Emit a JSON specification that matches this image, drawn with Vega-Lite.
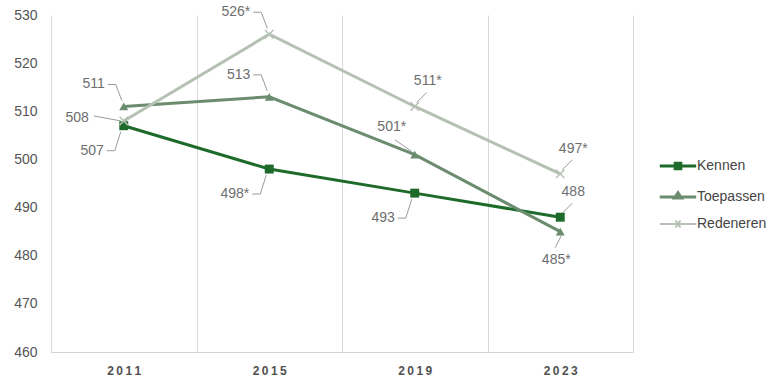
{
  "$schema": "https://vega.github.io/schema/vega-lite/v6.json",
  "autosize": "none",
  "width": 582,
  "height": 337,
  "padding": {"left": 51, "top": 15, "right": 140, "bottom": 28},
  "background": "white",
  "config": {"view": {"stroke": null}, "font": "Liberation Sans"},
  "data": {
    "values": [
      {"year": 2011, "series": "Kennen", "score": 507, "label": "507"},
      {"year": 2015, "series": "Kennen", "score": 498, "label": "498*"},
      {"year": 2019, "series": "Kennen", "score": 493, "label": "493"},
      {"year": 2023, "series": "Kennen", "score": 488, "label": "488"},
      {"year": 2011, "series": "Toepassen", "score": 511, "label": "511"},
      {"year": 2015, "series": "Toepassen", "score": 513, "label": "513"},
      {"year": 2019, "series": "Toepassen", "score": 501, "label": "501*"},
      {"year": 2023, "series": "Toepassen", "score": 485, "label": "485*"},
      {"year": 2011, "series": "Redeneren", "score": 508, "label": "508"},
      {"year": 2015, "series": "Redeneren", "score": 526, "label": "526*"},
      {"year": 2019, "series": "Redeneren", "score": 511, "label": "511*"},
      {"year": 2023, "series": "Redeneren", "score": 497, "label": "497*"}
    ]
  },
  "encoding": {
    "x": {
      "field": "year", "type": "quantitative",
      "scale": {"domain": [2009, 2025], "nice": false, "zero": false},
      "axis": {
        "title": null,
        "values": [2009, 2011, 2013, 2015, 2017, 2019, 2021, 2023, 2025],
        "format": "d",
        "labelExpr": "indexof([2011, 2015, 2019, 2023], datum.value) >= 0 ? join(split(datum.label, ''), '\u2009') : ''",
        "labelFontSize": 12,
        "labelFontWeight": "bold",
        "labelColor": "#505050",
        "labelPadding": 13,
        "labelFlush": false,
        "labelOverlap": false,
        "ticks": false,
        "domainColor": "#d4d4d4",
        "domainWidth": 1,
        "grid": true,
        "gridColor": "#d9d9d9",
        "gridWidth": 1,
        "gridOpacity": {"condition": {"test": "(datum.value - 2009) % 4 == 0", "value": 1}, "value": 0}
      }
    },
    "y": {
      "field": "score", "type": "quantitative",
      "scale": {"domain": [460, 530], "nice": false, "zero": false},
      "axis": {
        "title": null,
        "values": [460, 470, 480, 490, 500, 510, 520, 530],
        "labelFontSize": 14,
        "labelColor": "#555555",
        "labelPadding": 14,
        "ticks": false,
        "domain": false,
        "grid": false
      }
    },
    "color": {
      "field": "series", "type": "nominal",
      "scale": {"domain": ["Kennen", "Toepassen", "Redeneren"], "range": ["#1e6a2a", "#6b8c6e", "#b5c1b3"]},
      "legend": {
        "title": null,
        "orient": "none",
        "legendX": 620,
        "legendY": 144,
        "padding": 0,
        "symbolSize": 784,
        "symbolStrokeWidth": 3,
        "labelFontSize": 14,
        "labelColor": "#444444",
        "labelOffset": 12,
        "rowPadding": 11,
        "encode": {
          "symbols": {
            "update": {
              "shape": {"signal": "datum.value === 'Kennen' ? 'M-1.3,0H1.3M-0.2,-0.2H0.2V0.2H-0.2Z' : datum.value === 'Toepassen' ? 'M-1.3,0H1.3M0,-0.3L0.25,0.08H-0.25Z' : 'M-1.3,0H1.3M-0.18,-0.25L0.18,0.25M-0.18,0.25L0.18,-0.25'"},
              "fill": {"signal": "scale('color', datum.value)"},
              "stroke": {"signal": "scale('color', datum.value)"},
              "strokeWidth": {"signal": "datum.value === 'Redeneren' ? 2 : 3"}
            }
          }
        }
      }
    }
  },
  "layer": [
    {"mark": {"type": "line", "strokeWidth": 3}},
    {
      "transform": [{"filter": "datum.series !== 'Redeneren'"}],
      "mark": {"type": "point", "filled": true, "opacity": 1, "size": 80},
      "encoding": {
        "shape": {"field": "series", "type": "nominal", "scale": {"domain": ["Kennen", "Toepassen"], "range": ["square", "triangle-up"]}, "legend": null}
      }
    },
    {
      "transform": [{"filter": "datum.series === 'Redeneren'"}],
      "mark": {"type": "point", "filled": false, "opacity": 1, "size": 70, "strokeWidth": 1.5, "shape": "M-1,-1L1,1M-1,1L1,-1"}
    },
    {
      "transform": [{"filter": "datum.series === 'Kennen' && datum.year < 2023"}],
      "mark": {"type": "text", "align": "right", "baseline": "middle", "dx": -20, "dy": 25, "fontSize": 14},
      "encoding": {"text": {"field": "label"}, "color": {"value": "#6e6e6e"}}
    },
    {
      "transform": [{"filter": "datum.series === 'Kennen' && datum.year < 2023"}],
      "mark": {"type": "rule", "strokeWidth": 1, "xOffset": -17, "x2Offset": -9, "yOffset": 25, "y2Offset": 25},
      "encoding": {"x2": {"field": "year"}, "y2": {"field": "score"}, "color": {"value": "#9a9a9a"}}
    },
    {
      "transform": [{"filter": "datum.series === 'Kennen' && datum.year < 2023"}],
      "mark": {"type": "rule", "strokeWidth": 1, "xOffset": -9, "x2Offset": -3, "yOffset": 25, "y2Offset": 6},
      "encoding": {"x2": {"field": "year"}, "y2": {"field": "score"}, "color": {"value": "#9a9a9a"}}
    },
    {
      "transform": [{"filter": "(datum.series === 'Toepassen' && datum.year < 2019) || (datum.series === 'Redeneren' && datum.year === 2015)"}],
      "mark": {"type": "text", "align": "right", "baseline": "middle", "dx": -19, "dy": -22, "fontSize": 14},
      "encoding": {"text": {"field": "label"}, "color": {"value": "#6e6e6e"}}
    },
    {
      "transform": [{"filter": "(datum.series === 'Toepassen' && datum.year < 2019) || (datum.series === 'Redeneren' && datum.year === 2015)"}],
      "mark": {"type": "rule", "strokeWidth": 1, "xOffset": -16, "x2Offset": -8, "yOffset": -22, "y2Offset": -22},
      "encoding": {"x2": {"field": "year"}, "y2": {"field": "score"}, "color": {"value": "#9a9a9a"}}
    },
    {
      "transform": [{"filter": "(datum.series === 'Toepassen' && datum.year < 2019) || (datum.series === 'Redeneren' && datum.year === 2015)"}],
      "mark": {"type": "rule", "strokeWidth": 1, "xOffset": -8, "x2Offset": -2, "yOffset": -22, "y2Offset": -6},
      "encoding": {"x2": {"field": "year"}, "y2": {"field": "score"}, "color": {"value": "#9a9a9a"}}
    },
    {
      "transform": [{"filter": "(datum.series === 'Redeneren' && datum.year >= 2019) || (datum.series === 'Kennen' && datum.year === 2023)"}],
      "mark": {"type": "text", "align": "center", "baseline": "middle", "dx": 13, "dy": -25, "fontSize": 14},
      "encoding": {"text": {"field": "label"}, "color": {"value": "#6e6e6e"}}
    },
    {
      "transform": [{"filter": "(datum.series === 'Redeneren' && datum.year >= 2019) || (datum.series === 'Kennen' && datum.year === 2023)"}],
      "mark": {"type": "rule", "strokeWidth": 1, "xOffset": 12, "x2Offset": 2, "yOffset": -14, "y2Offset": -4},
      "encoding": {"x2": {"field": "year"}, "y2": {"field": "score"}, "color": {"value": "#9a9a9a"}}
    },
    {
      "transform": [{"filter": "datum.series === 'Toepassen' && datum.year === 2019"}],
      "mark": {"type": "text", "align": "center", "baseline": "middle", "dx": -23, "dy": -28, "fontSize": 14},
      "encoding": {"text": {"field": "label"}, "color": {"value": "#6e6e6e"}}
    },
    {
      "transform": [{"filter": "datum.series === 'Toepassen' && datum.year === 2019"}],
      "mark": {"type": "rule", "strokeWidth": 1, "xOffset": -20, "x2Offset": -3, "yOffset": -15, "y2Offset": -3},
      "encoding": {"x2": {"field": "year"}, "y2": {"field": "score"}, "color": {"value": "#9a9a9a"}}
    },
    {
      "transform": [{"filter": "datum.series === 'Redeneren' && datum.year === 2011"}],
      "mark": {"type": "text", "align": "right", "baseline": "middle", "dx": -35, "dy": -3, "fontSize": 14},
      "encoding": {"text": {"field": "label"}, "color": {"value": "#6e6e6e"}}
    },
    {
      "transform": [{"filter": "datum.series === 'Redeneren' && datum.year === 2011"}],
      "mark": {"type": "rule", "strokeWidth": 1, "xOffset": -30, "x2Offset": -3, "yOffset": -5, "y2Offset": 0},
      "encoding": {"x2": {"field": "year"}, "y2": {"field": "score"}, "color": {"value": "#9a9a9a"}}
    },
    {
      "transform": [{"filter": "datum.series === 'Toepassen' && datum.year === 2023"}],
      "mark": {"type": "text", "align": "center", "baseline": "middle", "dx": -4, "dy": 28, "fontSize": 14},
      "encoding": {"text": {"field": "label"}, "color": {"value": "#6e6e6e"}}
    },
    {
      "transform": [{"filter": "datum.series === 'Toepassen' && datum.year === 2023"}],
      "mark": {"type": "rule", "strokeWidth": 1, "xOffset": -5, "x2Offset": 1, "yOffset": 16, "y2Offset": 4},
      "encoding": {"x2": {"field": "year"}, "y2": {"field": "score"}, "color": {"value": "#9a9a9a"}}
    }
  ]
}
